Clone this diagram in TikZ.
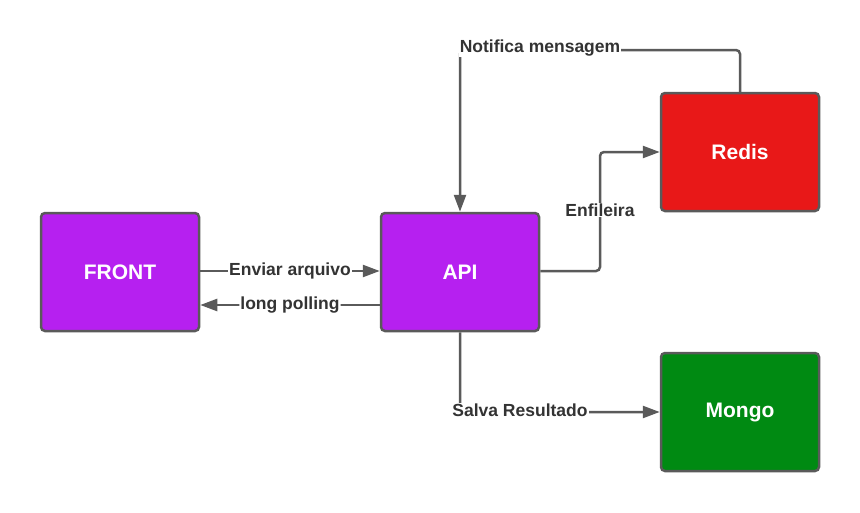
\documentclass[tikz,border=0pt]{standalone}
\usepackage{fontspec}
\setmainfont{Liberation Sans}
\usetikzlibrary{arrows.meta}
\definecolor{pur}{HTML}{B620F0}
\definecolor{redc}{HTML}{E81818}
\definecolor{grn}{HTML}{008A12}
\definecolor{edge}{HTML}{5A5A5A}
\definecolor{txt}{HTML}{333333}
\begin{document}
\begin{tikzpicture}[x=1pt,y=-1pt,
  box/.style={draw=edge,line width=2.5pt,rounded corners=4pt,minimum width=158pt,minimum height=118pt,inner sep=0pt,text=white,font=\fontsize{21}{24}\selectfont\bfseries},
  conn/.style={draw=edge,line width=2.5pt,rounded corners=4pt},
  arr/.style={conn,-{Triangle[length=17pt,width=12pt]}},
  lbl/.style={fill=white,text=txt,inner sep=1pt,font=\fontsize{17.5}{20}\selectfont\bfseries}]
\useasboundingbox (0,0) rectangle (860,512);
\node[box,fill=pur] (front) at (120,272) {FRONT};
\node[box,fill=pur] (api) at (460,272) {API};
\node[box,fill=redc] (redis) at (740,152) {Redis};
\node[box,fill=grn] (mongo) at (740,412) {Mongo};
% FRONT -> API
\draw[arr] (front.east |- 0,271) -- (api.west |- 0,271) node[lbl,midway] (l1) {Enviar arquivo};
% API -> FRONT
\draw[arr] (api.west |- 0,305) -- (front.east |- 0,305) node[lbl,midway] (l2) {long polling};
% API -> Redis
\coordinate (c1) at (600,271);
\draw[arr] (api.east |- 0,271) -| (600,152) -- (redis.west);
\node[lbl] (l3) at (600,210) {Enfileira};
% Redis -> API
\draw[arr] (redis.north) |- (460,50) -- (api.north);
\node[lbl] (l4) at (540,48) {Notifica mensagem};
% API -> Mongo
\draw[arr] (api.south) |- (mongo.west);
\node[lbl] (l5) at (520,410) {Salva Resultado};
\end{tikzpicture}
\end{document}
